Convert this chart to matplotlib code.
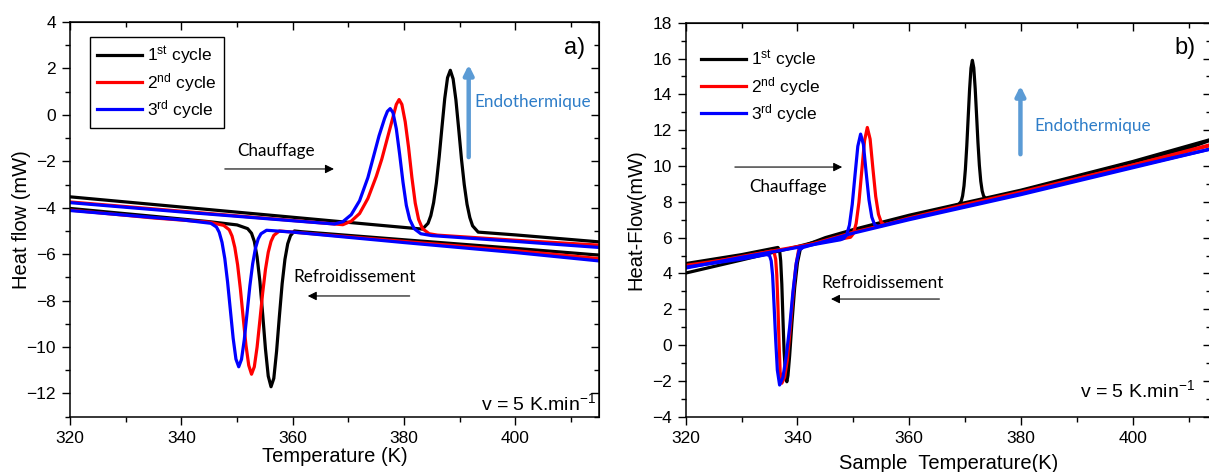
import matplotlib
matplotlib.use("Agg")
import matplotlib.pyplot as plt
import matplotlib.ticker as mticker

plt.rcParams['font.family'] = ['Liberation Sans', 'DejaVu Sans']
plt.rcParams['mathtext.fontset'] = 'custom'
plt.rcParams['mathtext.rm'] = 'Liberation Sans'
plt.rcParams['mathtext.it'] = 'Liberation Sans:italic'

# ---- panel a) : heating (h) and cooling (c), cycles 1..3 ----
a_h1_T = [320, 340, 360, 375, 383.3, 384.3, 384.8, 385.3, 385.8, 386.3, 386.8, 387.3, 387.8, 388.3,
          388.8, 389.3, 389.8, 390.3, 390.8, 391.3, 391.8, 392.3, 393.3, 400, 415]
a_h1_H = [-3.53, -3.97, -4.41, -4.74, -4.92, -4.67, -4.34, -3.78, -2.93, -1.81, -0.53, 0.71, 1.60, 1.92,
          1.55, 0.65, -0.6, -1.9, -3.0, -3.85, -4.42, -4.78, -5.05, -5.17, -5.47]
a_h2_T = [320, 340, 360, 369.0, 370.5, 372.0, 373.5, 375.0, 376.0, 377.0, 378.0, 378.6, 379.1, 379.6,
          380.2, 380.8, 381.4, 382.0, 382.6, 383.3, 384.5, 386, 400, 415]
a_h2_H = [-3.75, -4.15, -4.55, -4.73, -4.58, -4.25, -3.6, -2.65, -1.9, -1.0, -0.1, 0.45, 0.66, 0.45,
          -0.3, -1.4, -2.7, -3.8, -4.5, -4.9, -5.12, -5.18, -5.4, -5.61]
a_h3_T = [320, 340, 360, 367.5, 369.0, 370.5, 372.0, 373.5, 374.5, 375.5, 376.5, 377.0, 377.5, 378.0,
          378.6, 379.2, 379.8, 380.4, 381.0, 381.8, 383.0, 385, 400, 415]
a_h3_H = [-3.78, -4.18, -4.56, -4.7, -4.6, -4.3, -3.7, -2.7, -1.8, -0.9, -0.15, 0.15, 0.27, 0.1,
          -0.6, -1.7, -2.9, -3.9, -4.5, -4.9, -5.12, -5.2, -5.45, -5.71]

a_c1_T = [320, 335, 345, 350, 351.9, 352.6, 353.1, 353.6, 354.1, 354.6, 355.1, 355.6, 356.1, 356.6,
          357.1, 357.6, 358.1, 358.6, 359.1, 359.6, 360.3, 361.5, 380, 400, 415]
a_c1_H = [-4.03, -4.37, -4.6, -4.74, -4.9, -5.10, -5.45, -6.12, -7.17, -8.58, -10.08, -11.25, -11.71, -11.35,
          -10.18, -8.68, -7.27, -6.22, -5.55, -5.2, -5.0, -5.03, -5.38, -5.75, -6.04]
a_c2_T = [320, 335, 345, 347.6, 348.6, 349.1, 349.6, 350.1, 350.6, 351.1, 351.6, 352.1, 352.6, 353.1,
          353.6, 354.1, 354.6, 355.1, 355.6, 356.1, 356.6, 357.6, 380, 400, 415]
a_c2_H = [-4.1, -4.44, -4.62, -4.76, -4.95, -5.22, -5.71, -6.46, -7.5, -8.73, -9.92, -10.79, -11.17, -10.85,
          -10.0, -8.85, -7.67, -6.66, -5.92, -5.45, -5.19, -5.0, -5.45, -5.85, -6.19]
a_c3_T = [320, 335, 340, 345.3, 346.3, 346.8, 347.3, 347.8, 348.3, 348.8, 349.3, 349.8, 350.3, 350.8,
          351.3, 351.8, 352.3, 352.8, 353.3, 353.8, 354.3, 355.3, 360, 380, 400, 415]
a_c3_H = [-4.12, -4.42, -4.52, -4.67, -4.83, -5.06, -5.49, -6.19, -7.2, -8.41, -9.62, -10.52, -10.85, -10.53,
          -9.68, -8.53, -7.37, -6.42, -5.75, -5.34, -5.12, -4.97, -5.05, -5.5, -5.93, -6.29]

# ---- panel b) ----
b_h1_T = [320, 330, 340, 350, 360, 366, 368.8, 369.3, 369.55, 369.8, 370.05, 370.3, 370.55, 370.8, 371.05,
          371.3, 371.55, 371.8, 372.05, 372.3, 372.55, 372.8, 373.05, 373.3, 373.8, 380, 390, 400, 410, 413.6]
b_h1_H = [4.02, 4.75, 5.5, 6.3, 7.15, 7.6, 7.83, 8.03, 8.33, 8.89, 9.82, 11.13, 12.72, 14.28, 15.46,
          15.9, 15.48, 14.34, 12.84, 11.3, 10.04, 9.15, 8.61, 8.33, 8.13, 8.6, 9.4, 10.2, 11.0, 11.4]
b_h2_T = [320, 330, 340, 349.5, 350.0, 350.5, 351.0, 351.5, 352.0, 352.5, 353.0, 353.5, 354.0, 354.5,
          355.0, 355.6, 360, 370, 380, 390, 400, 414]
b_h2_H = [4.35, 4.95, 5.5, 6.02, 6.22, 6.79, 7.97, 9.71, 11.41, 12.15, 11.5, 9.85, 8.3, 7.3,
          6.85, 6.72, 7.1, 7.85, 8.55, 9.3, 10.05, 11.15]
b_h3_T = [320, 330, 340, 347.7, 348.3, 348.8, 349.3, 349.8, 350.3, 350.8, 351.3, 351.8, 352.3, 352.8,
          353.3, 353.8, 354.4, 360, 370, 380, 390, 400, 414]
b_h3_H = [4.3, 4.9, 5.45, 5.88, 5.95, 6.15, 6.7, 7.85, 9.5, 11.1, 11.78, 11.2, 9.6, 8.1,
          7.15, 6.72, 6.62, 7.05, 7.75, 8.45, 9.2, 9.95, 10.95]

b_c1_T = [320, 330, 336.0, 336.5, 336.8, 337.0, 337.2, 337.4, 337.6, 337.9, 338.1, 338.3, 338.6, 339.0,
          339.5, 340.0, 340.5, 341.2, 345, 350, 360, 370, 380, 390, 400, 413.6]
b_c1_H = [4.55, 5.05, 5.42, 5.45, 5.3, 4.7, 3.4, 1.5, -0.3, -1.8, -2.05, -1.7, -0.6, 1.2,
          3.2, 4.6, 5.35, 5.55, 6.0, 6.45, 7.25, 7.95, 8.65, 9.45, 10.25, 11.45]
b_c2_T = [320, 330, 335.3, 335.8, 336.1, 336.3, 336.5, 336.7, 336.9, 337.2, 337.7, 338.2, 338.7, 339.2,
          339.7, 340.2, 341, 350, 360, 380, 400, 414]
b_c2_H = [4.45, 4.9, 5.25, 5.2, 4.8, 3.9, 2.2, 0.2, -1.5, -2.13, -1.8, -0.8, 0.9, 2.8,
          4.4, 5.3, 5.5, 6.3, 7.05, 8.5, 10.05, 11.2]
b_c3_T = [320, 330, 334.5, 335.0, 335.3, 335.55, 335.8, 336.1, 336.4, 336.8, 337.4, 338.0, 338.6, 339.2,
          339.8, 340.3, 341, 350, 360, 380, 400, 414]
b_c3_H = [4.35, 4.8, 5.05, 5.0, 4.7, 3.9, 2.3, 0.3, -1.4, -2.23, -1.8, -0.6, 1.0, 3.0,
          4.6, 5.3, 5.45, 6.25, 7.0, 8.4, 9.9, 10.95]

cycle_labels = [r'1$^{\mathrm{st}}$ cycle', r'2$^{\mathrm{nd}}$ cycle', r'3$^{\mathrm{rd}}$ cycle']
cycle_colors = ['black', 'red', 'blue']

W, H = 1209, 472
fig = plt.figure(figsize=(W / 100, H / 100), dpi=100)
ax1 = fig.add_axes([70 / W, (H - 416.7) / H, 529 / W, 394.7 / H])
ax2 = fig.add_axes([685.7 / W, (H - 416.7) / H, (1211 - 685.7) / W, 394.0 / H])

note_font = 'Lato'
LW = 2.3


def style_axes(ax, xlim, ylim):
    ax.set_xlim(*xlim)
    ax.set_ylim(*ylim)
    ax.xaxis.set_major_locator(mticker.MultipleLocator(20))
    ax.xaxis.set_minor_locator(mticker.MultipleLocator(10))
    ax.yaxis.set_major_locator(mticker.MultipleLocator(2))
    ax.yaxis.set_minor_locator(mticker.MultipleLocator(1))
    ax.tick_params(which='major', direction='out', length=6, width=1, labelsize=12.5, pad=4)
    ax.tick_params(which='minor', direction='out', length=3.5, width=1)
    for s in ax.spines.values():
        s.set_linewidth(1.1)
    # top and right axes with inward ticks, no labels
    top = ax.secondary_xaxis('top')
    top.xaxis.set_major_locator(mticker.MultipleLocator(20))
    top.xaxis.set_minor_locator(mticker.MultipleLocator(10))
    top.xaxis.set_major_formatter(mticker.NullFormatter())
    top.tick_params(which='major', direction='in', length=6, width=1)
    top.tick_params(which='minor', direction='in', length=3.5, width=1)
    right = ax.secondary_yaxis('right')
    right.yaxis.set_major_locator(mticker.MultipleLocator(2))
    right.yaxis.set_minor_locator(mticker.MultipleLocator(1))
    right.yaxis.set_major_formatter(mticker.NullFormatter())
    right.tick_params(which='major', direction='in', length=6, width=1)
    right.tick_params(which='minor', direction='in', length=3.5, width=1)


# ---------------- panel a ----------------
heat_a = [(a_h1_T, a_h1_H), (a_h2_T, a_h2_H), (a_h3_T, a_h3_H)]
cool_a = [(a_c1_T, a_c1_H), (a_c2_T, a_c2_H), (a_c3_T, a_c3_H)]
for (hT, hH), (cT, cH), lab, col in zip(heat_a, cool_a, cycle_labels, cycle_colors):
    ax1.plot(hT, hH, color=col, lw=LW, label=lab)
    ax1.plot(cT, cH, color=col, lw=LW)

style_axes(ax1, (320, 415), (-13, 4))
ax1.set_xlabel('Temperature (K)', fontsize=14.5, labelpad=1)
ax1.set_ylabel('Heat flow (mW)', fontsize=14.5, labelpad=-3.5)

leg = ax1.legend(loc='upper left', bbox_to_anchor=(0.038, 0.962), borderaxespad=0, fontsize=12.5,
                 frameon=True, fancybox=False, edgecolor='black', framealpha=1,
                 handlelength=2.6, handletextpad=0.3, labelspacing=0.25, borderpad=0.4)
leg.get_frame().set_linewidth(1.0)

ax1.text(410.6, 2.88, 'a)', fontsize=17, ha='center', va='center')
ax1.text(414.5, -12.41, r'v = 5 K.min$^{-1}$', fontsize=14, ha='right', va='center')

ax1.text(356.95, -1.56, 'Chauffage', family=note_font, fontsize=12.3, ha='center', va='center')
ax1.annotate('', xy=(367.9, -2.33), xytext=(347.3, -2.33),
             arrowprops=dict(arrowstyle='-|>', color='black', lw=0.8, mutation_scale=13))
ax1.text(371.1, -6.98, 'Refroidissement', family=note_font, fontsize=12.3, ha='center', va='center')
ax1.annotate('', xy=(362.2, -7.8), xytext=(381.5, -7.8),
             arrowprops=dict(arrowstyle='-|>', color='black', lw=0.8, mutation_scale=13))
ax1.annotate('', xy=(391.6, 2.28), xytext=(391.6, -1.94),
             arrowprops=dict(arrowstyle='-|>', color='#5b9bd5', lw=3.2, mutation_scale=14))
ax1.text(403.05, 0.555, 'Endothermique', family=note_font, fontsize=12.3, color='#2e7dc8',
         ha='center', va='center')

# ---------------- panel b ----------------
heat_b = [(b_h1_T, b_h1_H), (b_h2_T, b_h2_H), (b_h3_T, b_h3_H)]
cool_b = [(b_c1_T, b_c1_H), (b_c2_T, b_c2_H), (b_c3_T, b_c3_H)]
for (hT, hH), (cT, cH), lab, col in zip(heat_b, cool_b, cycle_labels, cycle_colors):
    ax2.plot(hT, hH, color=col, lw=LW, label=lab)
    ax2.plot(cT, cH, color=col, lw=LW)

style_axes(ax2, (320, 414), (-4, 18))
ax2.set_xlabel('Sample  Temperature(K)', fontsize=14.5, labelpad=6)
ax2.set_ylabel('Heat-Flow(mW)', fontsize=14.5, labelpad=5)

ax2.legend(loc='upper left', bbox_to_anchor=(0.016, 0.9535), borderaxespad=0, fontsize=12.5,
           frameon=False, handlelength=2.6, handletextpad=0.3, labelspacing=0.25, borderpad=0.4)

ax2.text(409.4, 16.59, 'b)', fontsize=17, ha='center', va='center')
ax2.text(411.2, -2.5, r'v = 5 K.min$^{-1}$', fontsize=14, ha='right', va='center')

ax2.text(338.3, 8.83, 'Chauffage', family=note_font, fontsize=12.3, ha='center', va='center')
ax2.annotate('', xy=(348.5, 9.94), xytext=(328.3, 9.94),
             arrowprops=dict(arrowstyle='-|>', color='black', lw=0.8, mutation_scale=13))
ax2.text(355.3, 3.46, 'Refroidissement', family=note_font, fontsize=12.3, ha='center', va='center')
ax2.annotate('', xy=(345.5, 2.57), xytext=(365.9, 2.57),
             arrowprops=dict(arrowstyle='-|>', color='black', lw=0.8, mutation_scale=13))
ax2.annotate('', xy=(379.9, 14.63), xytext=(379.9, 10.5),
             arrowprops=dict(arrowstyle='-|>', color='#5b9bd5', lw=3.2, mutation_scale=14))
ax2.text(392.8, 12.23, 'Endothermique', family=note_font, fontsize=12.3, color='#2e7dc8',
         ha='center', va='center')

fig.savefig('out.png', dpi=100)
